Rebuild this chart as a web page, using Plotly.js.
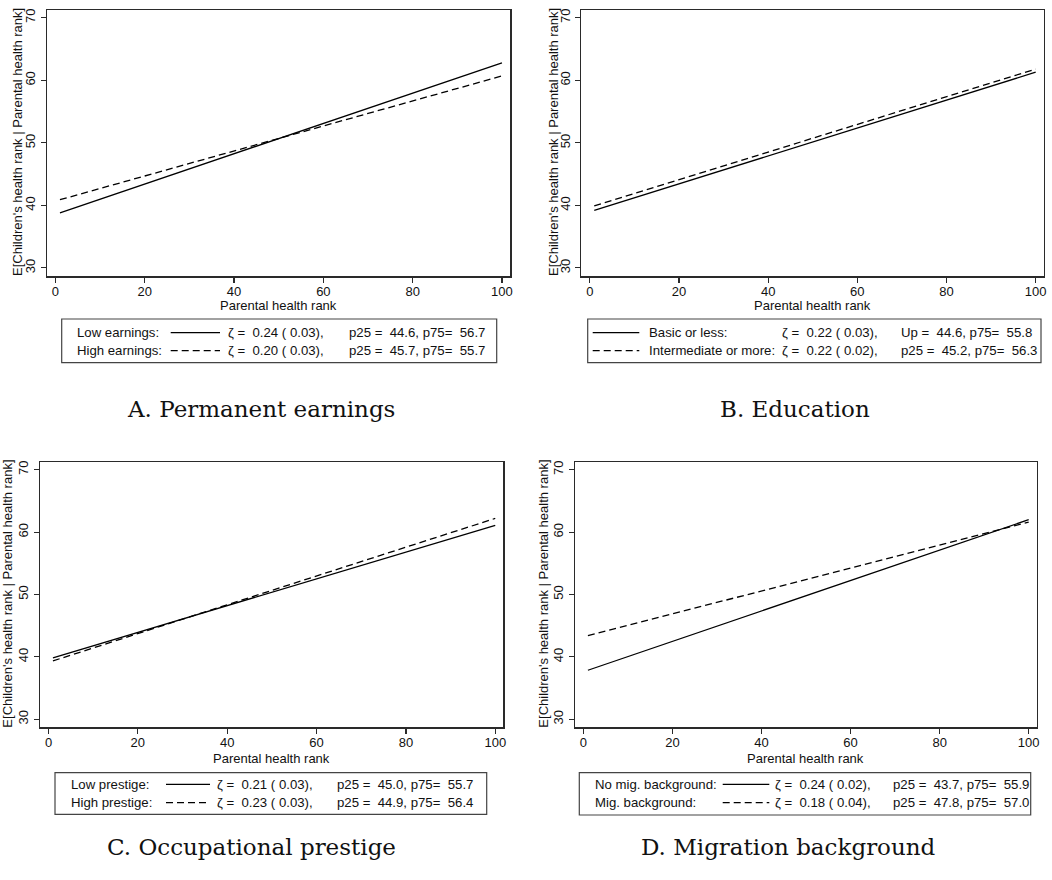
<!DOCTYPE html>
<html>
<head>
<meta charset="utf-8">
<script src="https://cdn.plot.ly/plotly-3.0.1.min.js"></script>
<style>html,body{margin:0;padding:0;background:#fff;}#chart{width:1052px;height:880px;}</style>
</head>
<body>
<div id="chart"></div>
<script>
// ---------------- data ----------------
const parentalRank = [1, 100];

// Panel A: Permanent earnings
const lowEarnings = [38.8, 62.8];
const highEarnings = [40.9, 60.7];
// Panel B: Education
const basicOrLess = [39.2, 61.3];
const intermediateOrMore = [39.9, 61.8];
// Panel C: Occupational prestige
const lowPrestige = [39.85, 61.1];
const highPrestige = [39.35, 62.2];
// Panel D: Migration background
const noMigBackground = [37.85, 62.0];
const migBackground = [43.4, 61.6];

const xTickVals = [0, 20, 40, 60, 80, 100];
const yTickVals = [30, 40, 50, 60, 70];

const panelTitles = ["A. Permanent earnings", "B. Education", "C. Occupational prestige", "D. Migration background"];
const xTitle = "Parental health rank";
const yTitle = "E[Children's health rank | Parental health rank]";

const legendLabels = [
  ["Low earnings:", "High earnings:"],
  ["Basic or less:", "Intermediate or more:"],
  ["Low prestige:", "High prestige:"],
  ["No mig. background:", "Mig. background:"]
];
const zetaTexts = [
  ["ζ =  0.24 ( 0.03),", "ζ =  0.20 ( 0.03),"],
  ["ζ =  0.22 ( 0.03),", "ζ =  0.22 ( 0.02),"],
  ["ζ =  0.21 ( 0.03),", "ζ =  0.23 ( 0.03),"],
  ["ζ =  0.24 ( 0.02),", "ζ =  0.18 ( 0.04),"]
];
const pctTexts = [
  ["p25 =  44.6, p75=  56.7", "p25 =  45.7, p75=  55.7"],
  ["Up =  44.6, p75=  55.8", "p25 =  45.2, p75=  56.3"],
  ["p25 =  45.0, p75=  55.7", "p25 =  44.9, p75=  56.4"],
  ["p25 =  43.7, p75=  55.9", "p25 =  47.8, p75=  57.0"]
];

// ---------------- layout helpers ----------------
const W = 1052, H = 880;
const PX = v => v / W;
const PY = v => 1 - v / H;
const SANS = "Liberation Sans, Arial, sans-serif";
const SERIF = "DejaVu Serif, serif";
const DASH = "7px,4px";
const nb = s => s.replace(/ /g, "\u00a0");

// plot areas in pixels: [left, right, top, bottom]
const boxes = [
  [47, 510, 10, 276],
  [581.3, 1043.7, 10, 276],
  [40, 503.3, 462, 727.3],
  [575, 1036.7, 462, 727.3]
];

const seriesPairs = [
  [lowEarnings, highEarnings],
  [basicOrLess, intermediateOrMore],
  [lowPrestige, highPrestige],
  [noMigBackground, migBackground]
];

const traces = [];
seriesPairs.forEach((pair, i) => {
  const xa = i === 0 ? "x" : "x" + (i + 1);
  const ya = i === 0 ? "y" : "y" + (i + 1);
  traces.push({x: parentalRank, y: pair[0], xaxis: xa, yaxis: ya, mode: "lines",
    line: {color: "#000", width: 1.3}, hoverinfo: "skip"});
  traces.push({x: parentalRank, y: pair[1], xaxis: xa, yaxis: ya, mode: "lines",
    line: {color: "#000", width: 1.3, dash: DASH}, hoverinfo: "skip"});
});

const layout = {
  width: W, height: H,
  margin: {l: 0, r: 0, t: 0, b: 0},
  paper_bgcolor: "#fff", plot_bgcolor: "#fff",
  showlegend: false,
  annotations: [], shapes: []
};

boxes.forEach((b, i) => {
  const sfx = i === 0 ? "" : String(i + 1);
  const common = {
    showgrid: false, zeroline: false, showline: true, mirror: true,
    linecolor: "#2a2a2a", linewidth: 1.5,
    ticks: "outside", ticklen: 5, tickwidth: 1.2, tickcolor: "#2a2a2a",
    tickfont: {family: SANS, size: 13, color: "#111"},
    fixedrange: true
  };
  layout["xaxis" + sfx] = Object.assign({}, common, {
    domain: [PX(b[0]), PX(b[1])], anchor: "y" + sfx,
    range: [-1.9, 101.8], tickmode: "array", tickvals: xTickVals,
    ticklabelstandoff: -2
  });
  layout["yaxis" + sfx] = Object.assign({}, common, {
    domain: [PY(b[3]), PY(b[2])], anchor: "x" + sfx,
    range: [28.7, 71.25], tickmode: "array", tickvals: yTickVals, tickangle: -90
  });
});

function txt(x, y, s, o) {
  o = o || {};
  return Object.assign({
    xref: "paper", yref: "paper", x: PX(x), y: PY(y), text: nb(s), showarrow: false,
    xanchor: "left", yanchor: "middle",
    font: {family: SANS, size: 13.2, color: "#111"}
  }, o);
}

// axis titles
const yTitleX = [17, 553, 8, 544];
const xTitleY = [305, 305, 758, 758];
boxes.forEach((b, i) => {
  layout.annotations.push(txt((b[0] + b[1]) / 2, xTitleY[i], xTitle,
    {xanchor: "center", font: {family: SANS, size: 13, color: "#111"}}));
  layout.annotations.push(txt(yTitleX[i], (b[2] + b[3]) / 2 - 1, yTitle,
    {xanchor: "center", textangle: -90, font: {family: SANS, size: 13, color: "#111"}}));
});

// legends: box [l, r, t, b], rows y, columns: label x, sample [x0,x1], zeta x, pct x
const legends = [
  {box: [61.7, 496.7, 319, 362.7], rows: [332.7, 350.7], label: 75, sample: [170.7, 220], zeta: 225.7, pct: 346.7},
  {box: [587.7, 1041, 319, 362.7], rows: [332.7, 350.7], label: 646.7, sample: [592.7, 639.3], zeta: 780, pct: 899},
  {box: [55, 486.7, 772.7, 814.3], rows: [784.3, 802.7], label: 69.3, sample: [166, 210], zeta: 215, pct: 335},
  {box: [579.3, 1030.7, 772.7, 815], rows: [784.3, 802.7], label: 592.7, sample: [722.7, 769.3], zeta: 772.7, pct: 890.5}
];
legends.forEach((L, i) => {
  layout.shapes.push({type: "rect", xref: "paper", yref: "paper",
    x0: PX(L.box[0]), x1: PX(L.box[1]), y0: PY(L.box[3]), y1: PY(L.box[2]),
    line: {color: "#444", width: 1.2}, fillcolor: "rgba(0,0,0,0)"});
  [0, 1].forEach(r => {
    const y = L.rows[r];
    layout.shapes.push({type: "line", xref: "paper", yref: "paper",
      x0: PX(L.sample[0]), x1: PX(L.sample[1]), y0: PY(y), y1: PY(y),
      line: {color: "#000", width: 1.2, dash: r === 0 ? "solid" : DASH}});
    layout.annotations.push(txt(L.label, y, legendLabels[i][r]));
    layout.annotations.push(txt(L.zeta, y, zetaTexts[i][r]));
    layout.annotations.push(txt(L.pct, y, pctTexts[i][r]));
  });
});

// panel captions
const captionPos = [[261, 409], [795, 409], [251, 847], [788, 847]];
panelTitles.forEach((t, i) => {
  layout.annotations.push(txt(captionPos[i][0], captionPos[i][1], t,
    {xanchor: "center", font: {family: SERIF, size: 23, color: "#111"}}));
});

Plotly.newPlot("chart", traces, layout, {staticPlot: true, displayModeBar: false});
</script>
</body>
</html>
